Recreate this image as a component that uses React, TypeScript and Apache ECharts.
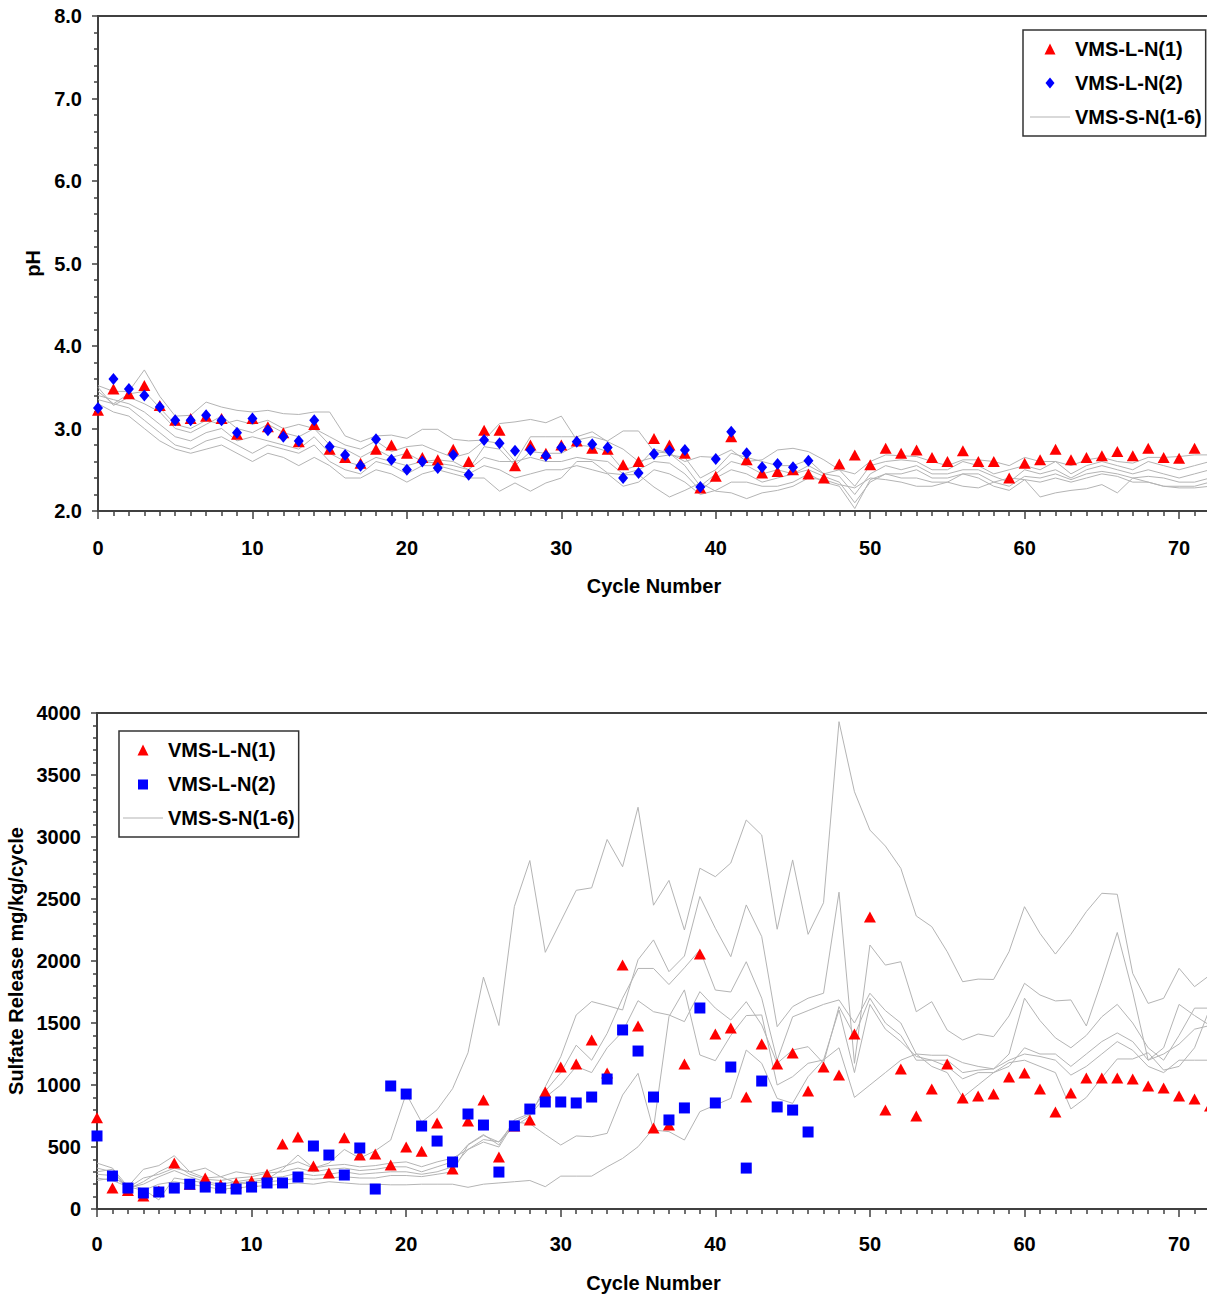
import React, { useEffect, useRef } from "react";
import * as echarts from "echarts";

// cycle index = array index (0, 1, 2, ...)
const phL1 = [3.22, 3.48, 3.42, 3.52, 3.28, 3.1, 3.12, 3.15, 3.12, 2.93, 3.12, 3.02, 2.95, 2.84, 3.05, 2.75, 2.65, 2.58, 2.75, 2.8, 2.7, 2.65, 2.62, 2.75, 2.6, 2.98, 2.98, 2.55, 2.8, 2.7, 2.8, 2.85, 2.76, 2.75, 2.56, 2.6, 2.88, 2.8, 2.7, 2.28, 2.42, 2.9, 2.62, 2.46, 2.48, 2.5, 2.45, 2.4, 2.57, 2.68, 2.56, 2.76, 2.7, 2.74, 2.65, 2.6, 2.73, 2.6, 2.6, 2.4, 2.58, 2.62, 2.75, 2.62, 2.65, 2.67, 2.72, 2.67, 2.76, 2.65, 2.64, 2.76];
const phL2 = [3.25, 3.6, 3.48, 3.4, 3.26, 3.1, 3.1, 3.16, 3.1, 2.95, 3.12, 2.98, 2.9, 2.85, 3.1, 2.78, 2.68, 2.55, 2.87, 2.62, 2.5, 2.6, 2.52, 2.68, 2.44, 2.86, 2.82, 2.73, 2.74, 2.67, 2.77, 2.84, 2.81, 2.77, 2.4, 2.46, 2.69, 2.73, 2.74, 2.29, 2.63, 2.96, 2.7, 2.53, 2.57, 2.53, 2.61];

const phS1 = [3.52, 3.45, 3.45, 3.71, 3.39, 3.15, 3.16, 3.32, 3.26, 3.22, 3.2, 3.22, 3.18, 3.17, 3.2, 3.2, 2.91, 2.84, 2.91, 2.92, 2.88, 2.99, 2.99, 2.87, 2.85, 2.86, 3.06, 3.08, 3.11, 3.07, 3.15, 2.86, 2.9, 2.85, 2.97, 2.97, 2.72, 2.7, 2.6, 2.66, 2.65, 2.74, 2.6, 2.62, 2.74, 2.76, 2.72, 2.62, 2.5, 2.45, 2.6, 2.68, 2.67, 2.66, 2.6, 2.55, 2.62, 2.62, 2.6, 2.55, 2.65, 2.6, 2.6, 2.55, 2.62, 2.65, 2.6, 2.58, 2.65, 2.65, 2.66, 2.68, 2.68];
const phS2 = [3.45, 3.3, 3.42, 3.45, 3.25, 3.05, 3.0, 3.1, 3.05, 3.1, 3.05, 3.1, 3.0, 3.05, 3.0, 2.9, 2.8, 2.75, 2.85, 2.72, 2.78, 2.8, 2.72, 2.65, 2.7, 2.85, 2.82, 2.6, 2.9, 2.9, 2.9, 2.9, 2.96, 2.84, 2.75, 2.6, 2.65, 2.68, 2.65, 2.4, 2.5, 2.7, 2.65, 2.6, 2.55, 2.55, 2.62, 2.45, 2.5, 2.3, 2.55, 2.6, 2.62, 2.6, 2.5, 2.5, 2.6, 2.55, 2.45, 2.5, 2.55, 2.5, 2.6, 2.45, 2.55, 2.6, 2.55, 2.5, 2.6, 2.55, 2.5, 2.55, 2.6];
const phS3 = [3.5, 3.28, 3.38, 3.3, 3.2, 3.0, 2.95, 3.05, 3.15, 3.0, 2.95, 3.05, 2.95, 2.9, 3.0, 2.8, 2.75, 2.65, 2.75, 2.65, 2.7, 2.6, 2.62, 2.6, 2.5, 2.78, 2.75, 2.55, 2.72, 2.7, 2.7, 2.8, 2.78, 2.72, 2.5, 2.55, 2.75, 2.7, 2.55, 2.3, 2.45, 2.6, 2.55, 2.45, 2.5, 2.45, 2.55, 2.45, 2.42, 2.2, 2.45, 2.55, 2.5, 2.55, 2.45, 2.45, 2.5, 2.5, 2.42, 2.35, 2.5, 2.45, 2.5, 2.4, 2.5, 2.55, 2.5, 2.45, 2.5, 2.45, 2.4, 2.45, 2.5];
const phS4 = [3.4, 3.35, 3.3, 3.2, 3.05, 2.9, 2.85, 2.95, 3.0, 2.85, 2.9, 2.85, 2.8, 2.75, 2.9, 2.7, 2.6, 2.55, 2.65, 2.6, 2.55, 2.6, 2.58, 2.55, 2.5, 2.65, 2.6, 2.6, 2.65, 2.6, 2.6, 2.65, 2.62, 2.6, 2.45, 2.5, 2.6, 2.58, 2.45, 2.25, 2.4, 2.5, 2.45, 2.35, 2.4, 2.45, 2.5, 2.42, 2.35, 2.1, 2.35, 2.45, 2.45, 2.5, 2.4, 2.4, 2.45, 2.45, 2.35, 2.3, 2.42, 2.4, 2.45, 2.38, 2.45, 2.48, 2.45, 2.4, 2.42, 2.4, 2.35, 2.35, 2.4];
const phS5 = [3.35, 3.3, 3.25, 3.1, 2.95, 2.8, 2.75, 2.85, 2.9, 2.8, 2.7, 2.8, 2.75, 2.7, 2.8, 2.6, 2.5, 2.45, 2.6, 2.55, 2.45, 2.55, 2.55, 2.5, 2.45, 2.55, 2.5, 2.4, 2.45, 2.5, 2.5, 2.55, 2.5, 2.45, 2.3, 2.35, 2.5, 2.45, 2.35, 2.2, 2.25, 2.35, 2.35, 2.3, 2.3, 2.35, 2.45, 2.35, 2.3, 2.03, 2.38, 2.45, 2.4, 2.4, 2.35, 2.35, 2.45, 2.4, 2.3, 2.25, 2.38, 2.35, 2.4, 2.35, 2.4, 2.45, 2.42, 2.35, 2.35, 2.3, 2.3, 2.3, 2.35];
const phS6 = [3.3, 3.2, 3.15, 3.0, 2.85, 2.75, 2.7, 2.75, 2.8, 2.7, 2.6, 2.7, 2.65, 2.55, 2.65, 2.55, 2.4, 2.4, 2.5, 2.45, 2.35, 2.45, 2.5, 2.45, 2.4, 2.4, 2.24, 2.34, 2.24, 2.34, 2.4, 2.6, 2.6, 2.46, 2.44, 2.44, 2.29, 2.17, 2.25, 2.34, 2.24, 2.22, 2.15, 2.22, 2.25, 2.3, 2.4, 2.38, 2.32, 2.28, 2.4, 2.38, 2.35, 2.3, 2.3, 2.35, 2.3, 2.28, 2.35, 2.4, 2.38, 2.17, 2.22, 2.25, 2.27, 2.32, 2.22, 2.4, 2.35, 2.3, 2.28, 2.28, 2.3];

const soL1 = [735, 170, 150, 105, 145, 370, 200, 250, 195, 210, 225, 280, 525, 580, 347, 290, 575, 435, 443, 355, 500, 465, 693, 322, 710, 880, 420, 670, 718, 944, 1145, 1170, 1363, 1097, 1968, 1476, 653, 677, 1170, 2056, 1411, 1460, 903, 1331, 1170, 1258, 952, 1145, 1081, 1411, 2355, 798, 1129, 750, 968, 1170, 895, 911, 927, 1065, 1097, 968, 782, 935, 1056, 1056, 1056, 1048, 992, 976, 911, 887, 830];
const soL2 = [589, 266, 169, 129, 137, 169, 200, 177, 169, 161, 177, 210, 210, 258, 508, 435, 274, 492, 161, 992, 927, 669, 548, 379, 766, 677, 298, 670, 806, 863, 863, 855, 903, 1048, 1444, 1274, 903, 718, 815, 1621, 855, 1145, 330, 1032, 823, 798, 621];

const soS1 = [330, 300, 170, 250, 280, 330, 300, 250, 260, 210, 220, 240, 320, 435, 330, 370, 480, 410, 470, 556, 930, 700, 800, 970, 1260, 1870, 1480, 2440, 2810, 2070, 2320, 2570, 2590, 2980, 2760, 3240, 2450, 2650, 2250, 2748, 2680, 2790, 3137, 3016, 2256, 2815, 2215, 2470, 3930, 3365, 3056, 2927, 2747, 2363, 2277, 2075, 1833, 1854, 1851, 2075, 2438, 2223, 2056, 2215, 2398, 2546, 2538, 1900, 1658, 1699, 1941, 1793, 1887];
const soS2 = [370, 330, 180, 320, 350, 430, 300, 330, 260, 300, 280, 300, 340, 380, 330, 350, 360, 340, 350, 370, 380, 341, 380, 410, 480, 560, 542, 665, 746, 986, 1228, 1565, 1673, 1640, 1605, 2010, 2170, 1914, 2040, 2520, 2264, 2035, 2452, 2197, 1470, 1632, 1700, 1740, 2555, 1175, 2129, 1967, 1994, 1591, 1672, 1443, 1363, 1411, 1390, 1557, 1820, 1726, 1678, 1686, 1476, 1840, 2230, 1750, 1200, 1300, 1650, 1560, 1480];
const soS3 = [300, 320, 160, 220, 300, 360, 280, 240, 230, 250, 260, 290, 300, 330, 300, 320, 330, 310, 320, 340, 340, 300, 340, 380, 520, 600, 516, 720, 770, 950, 1100, 1321, 1200, 1416, 1700, 1940, 1940, 1810, 1945, 2089, 1766, 1750, 1994, 1700, 1200, 1550, 1600, 1650, 1686, 1500, 1740, 1600, 1500, 1250, 1240, 1240, 1180, 1150, 1130, 1250, 1700, 1520, 1380, 1300, 1400, 1550, 1650, 1500, 1300, 1200, 1400, 1620, 1620];
const soS4 = [280, 270, 170, 200, 260, 310, 260, 220, 200, 220, 240, 250, 260, 290, 270, 280, 300, 280, 290, 300, 300, 280, 300, 340, 480, 540, 500, 700, 760, 900, 1000, 1150, 1100, 1300, 1430, 1680, 1591, 1565, 1511, 1753, 1620, 1524, 1672, 1484, 1175, 1282, 1309, 1175, 1632, 1400, 1700, 1500, 1400, 1200, 1200, 1150, 1050, 1100, 1100, 1150, 1300, 1250, 1250, 1150, 1250, 1350, 1420, 1350, 1200, 1250, 1330, 1450, 1480];
const soS5 = [230, 250, 200, 160, 73, 250, 230, 210, 180, 200, 210, 220, 230, 250, 240, 250, 260, 250, 250, 270, 270, 261, 280, 300, 516, 593, 540, 701, 688, 600, 516, 589, 583, 610, 919, 1094, 637, 624, 556, 785, 838, 892, 1282, 1175, 892, 852, 1067, 1202, 1605, 1100, 1650, 1450, 1350, 1230, 1200, 1200, 1100, 1120, 1130, 1200, 1250, 1230, 1200, 1080, 1150, 1250, 1350, 1280, 1150, 1100, 1200, 1200, 1200];
const soS6 = [250, 230, 180, 150, 200, 220, 200, 180, 160, 170, 180, 190, 200, 210, 200, 220, 210, 200, 200, 195, 195, 200, 200, 200, 175, 200, 210, 220, 230, 180, 265, 265, 265, 340, 408, 502, 650, 1551, 1767, 1242, 1196, 1400, 1560, 1565, 1000, 1067, 1175, 1202, 1300, 900, 1000, 1100, 1200, 1250, 1150, 1100, 900, 1000, 1100, 1180, 1200, 1150, 1100, 807, 900, 1060, 1210, 1210, 1260, 1120, 1150, 1300, 1620];

const phGrey = [phS1, phS2, phS3, phS4, phS5, phS6];
const soGrey = [soS1, soS2, soS3, soS4, soS5, soS6];

const FONT = "'Liberation Sans', Arial, sans-serif";
const AXIS_COLOR = "#404040";
const GREY = "#b4b4b4";

// legend icons: invisible moveTo points fix the 40x11 box so the marks keep their shape
const ICON_TRI = "path://M0,0 M40,11 M14.5,11 L20,0 L25.5,11 Z";
const ICON_DIA = "path://M0,0 M40,11 M20,0 L24.5,5.5 L20,11 L15.5,5.5 Z";
const ICON_SQR = "path://M0,0 M40,11 M15,1 L25,1 L25,11 L15,11 Z";
const ICON_LINE = "path://M0,0 M40,11 M0,5 L40,5 L40,6 L0,6 Z";

const pts = (arr: number[]) => arr.map((v, i) => [i, v]);

const textBold = { fontSize: 20, fontWeight: "bold" as const, fontFamily: FONT, color: "#000" };

const xAxisFor = (gridIndex: number, margin: number, nameGap: number) => ({
	type: "value" as const,
	gridIndex,
	min: 0,
	max: 72,
	interval: 10,
	name: "Cycle Number",
	nameLocation: "middle" as const,
	nameGap,
	nameTextStyle: textBold,
	axisLine: { show: true, lineStyle: { color: AXIS_COLOR, width: 2 } },
	axisTick: { show: true, length: 8, lineStyle: { color: AXIS_COLOR, width: 1.5 } },
	minorTick: { show: true, splitNumber: 10, length: 5, lineStyle: { color: AXIS_COLOR, width: 1.5 } },
	splitLine: { show: false },
	axisLabel: { ...textBold, margin, showMaxLabel: false },
});

const legendFor = (left: number, top: number, padLeft: number, second: string) => ({
	orient: "vertical" as const,
	left,
	top,
	padding: [9, 4, 9, padLeft],
	itemGap: 14,
	itemWidth: 40,
	itemHeight: 11,
	borderColor: "#333",
	borderWidth: 1.5,
	backgroundColor: "#fff",
	selectedMode: false,
	textStyle: { fontSize: 20, fontWeight: "bold" as const, fontFamily: FONT, color: "#000", lineHeight: 20 },
	data: [
		{ name: "VMS-L-N(1)", icon: ICON_TRI },
		{ name: "VMS-L-N(2)", icon: second },
		{ name: "VMS-S-N(1-6)", icon: ICON_LINE },
	],
});

const App = () => {
	const chartRef = useRef<HTMLDivElement>(null);

	useEffect(() => {
		if (!chartRef.current) return;
		const chart = echarts.init(chartRef.current, undefined, { renderer: "svg" });

		const greySeries = (sets: number[][], idx: number) =>
			sets.map(arr => ({
				type: "line" as const,
				name: "VMS-S-N(1-6)",
				xAxisIndex: idx,
				yAxisIndex: idx,
				data: pts(arr),
				symbol: "none",
				silent: true,
				lineStyle: { color: GREY, width: 1 },
				itemStyle: { color: GREY },
				z: 1,
			}));

		const yAxisBase = {
			type: "value",
			nameLocation: "middle",
			nameTextStyle: textBold,
			axisLine: { show: true, lineStyle: { color: AXIS_COLOR, width: 2 } },
			axisTick: { show: true, length: 6, lineStyle: { color: AXIS_COLOR, width: 1.5 } },
			minorTick: { show: true, splitNumber: 5, length: 4, lineStyle: { color: AXIS_COLOR, width: 1.5 } },
			splitLine: { show: false },
		};

		const option = {
			animation: false,
			grid: [
				{ left: 98, top: 16, width: 1112, height: 495, show: true, borderColor: AXIS_COLOR, borderWidth: 2, outerBoundsMode: "none" },
				{ left: 97, top: 713, width: 1113, height: 496, show: true, borderColor: AXIS_COLOR, borderWidth: 2, outerBoundsMode: "none" },
			],
			xAxis: [xAxisFor(0, 27, 65), xAxisFor(1, 25, 64)],
			yAxis: [
				{
					...yAxisBase,
					gridIndex: 0,
					min: 2,
					max: 8,
					interval: 1,
					name: "pH",
					nameGap: 54,
					axisLabel: { ...textBold, margin: 16, formatter: (v: number) => v.toFixed(1) },
				},
				{
					...yAxisBase,
					gridIndex: 1,
					min: 0,
					max: 4000,
					interval: 500,
					name: "Sulfate Release mg/kg/cycle",
					nameGap: 68,
					axisLabel: { ...textBold, margin: 16, formatter: (v: number) => String(v) },
				},
			],
			legend: [legendFor(1023, 30, 7, ICON_DIA), legendFor(119, 731, 4, ICON_SQR)],
			series: [
				...greySeries(phGrey, 0),
				...greySeries(soGrey, 1),
				{
					type: "scatter",
					name: "VMS-L-N(1)",
					xAxisIndex: 0,
					yAxisIndex: 0,
					data: pts(phL1),
					symbol: "triangle",
					symbolSize: [12, 11],
					itemStyle: { color: "#ff0000", opacity: 1 },
					z: 3,
				},
				{
					type: "scatter",
					name: "VMS-L-N(2)",
					xAxisIndex: 0,
					yAxisIndex: 0,
					data: pts(phL2),
					symbol: "diamond",
					symbolSize: [10, 12],
					itemStyle: { color: "#0000ff", opacity: 1 },
					z: 4,
				},
				{
					type: "scatter",
					name: "VMS-L-N(1)",
					xAxisIndex: 1,
					yAxisIndex: 1,
					data: pts(soL1),
					symbol: "triangle",
					symbolSize: [12, 11],
					itemStyle: { color: "#ff0000", opacity: 1 },
					z: 3,
				},
				{
					type: "scatter",
					name: "VMS-L-N(2)",
					xAxisIndex: 1,
					yAxisIndex: 1,
					data: pts(soL2),
					symbol: "rect",
					symbolSize: [11, 11],
					itemStyle: { color: "#0000ff", opacity: 1 },
					z: 4,
				},
			],
		};

		chart.setOption(option as any);
		return () => {
			chart.dispose();
		};
	}, []);

	return (
		<div
			ref={chartRef}
			style={{ position: "absolute", left: 0, top: 0, width: 1207, height: 1298, background: "#fff" }}
		/>
	);
};

export default App;
